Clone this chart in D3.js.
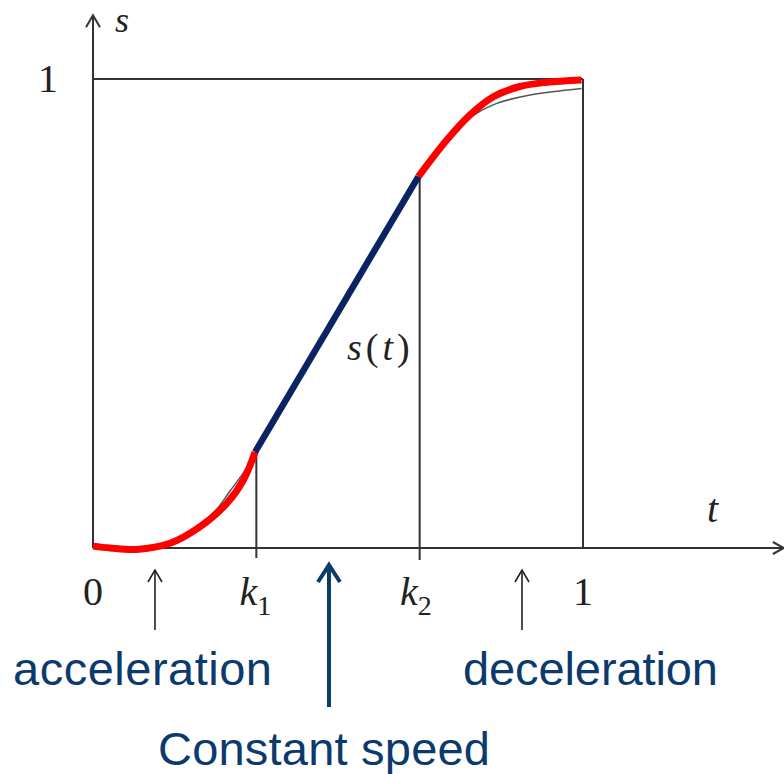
<!DOCTYPE html>
<html lang="en">
<head>
  <meta charset="utf-8">
  <title>S-curve motion profile</title>
  <script src="https://d3js.org/d3.v7.min.js"></script>
  <style>
    body { margin: 0; background: #fff; }
    .frame { stroke: #333; stroke-width: 2px; fill: none; }
    .math { font-family: 'Liberation Serif', 'Times New Roman', serif; fill: #222; }
    .note { font-family: 'Liberation Sans', Arial, sans-serif; font-size: 47px; fill: #0c3a6c; }
  </style>
</head>
<body>
<div id="chart"></div>
<script>
  // knots on the t axis: 0, k1, k2, 1
  var tTicks = [0, 1 / 3, 2 / 3, 1];
  var tTickNames = ["0", "k", "k", "1"];
  var tTickSubs = ["", "1", "2", ""];

  // red acceleration part [t, s]
  var accel = [[0, 0.004], [0.035, 0.0], [0.089, -0.003], [0.157, 0.010], [0.218, 0.045],
    [0.273, 0.095], [0.307, 0.145], [0.331, 0.205]];
  // blue constant speed part
  var cruise = [[0.331, 0.205], [0.664, 0.792]];
  // red deceleration part
  var decel = [[0.664, 0.792], [0.722, 0.870], [0.769, 0.923], [0.817, 0.962],
    [0.871, 0.984], [0.926, 0.993], [0.997, 0.998]];
  // thin grey reference curve underneath
  var refAccel = [[0, 0], [0.08, 0.0], [0.14, 0.008], [0.2, 0.036], [0.25, 0.08],
    [0.28, 0.122], [0.31, 0.165], [0.333, 0.205]];
  var refDecel = [[0.664, 0.792], [0.74, 0.895], [0.783, 0.927], [0.824, 0.948],
    [0.892, 0.966], [0.997, 0.980]];

  // annotation arrows on the t axis
  var phaseArrows = [0.1265, 0.4816, 0.8755];

  var W = 784, H = 774;
  var svg = d3.select("#chart").append("svg")
    .attr("width", W).attr("height", H);

  var x = d3.scaleLinear().domain([0, 1]).range([93, 583]);
  var y = d3.scaleLinear().domain([0, 1]).range([548, 79]);
  var tMax = 1.41, sMax = 1.136;

  var line = d3.line()
    .x(function (d) { return x(d[0]); })
    .y(function (d) { return y(d[1]); })
    .curve(d3.curveCatmullRom.alpha(0.5));

  // axes
  svg.append("line").attr("class", "frame")
    .attr("x1", x(0)).attr("y1", y(0)).attr("x2", x(tMax) - 1).attr("y2", y(0));
  svg.append("line").attr("class", "frame")
    .attr("x1", x(0)).attr("y1", y(0)).attr("x2", x(0)).attr("y2", y(sMax) + 1);

  // axis arrow heads
  svg.append("path").attr("class", "frame")
    .attr("d", "M" + (x(tMax) - 11) + "," + (y(0) - 6) + "L" + x(tMax) + "," + y(0) +
      "L" + (x(tMax) - 11) + "," + (y(0) + 6));
  svg.append("path").attr("class", "frame")
    .attr("d", "M" + (x(0) - 7) + "," + (y(sMax) + 12) + "L" + x(0) + "," + y(sMax) +
      "L" + (x(0) + 7) + "," + (y(sMax) + 12));

  // box s = 1 and t = 1
  svg.append("line").attr("class", "frame")
    .attr("x1", x(0)).attr("y1", y(1)).attr("x2", x(1)).attr("y2", y(1));
  svg.append("line").attr("class", "frame")
    .attr("x1", x(1)).attr("y1", y(1)).attr("x2", x(1)).attr("y2", y(0));

  // verticals at k1, k2
  svg.append("line").attr("class", "frame")
    .attr("x1", x(tTicks[1])).attr("y1", y(cruise[0][1])).attr("x2", x(tTicks[1])).attr("y2", y(0) + 10);
  svg.append("line").attr("class", "frame")
    .attr("x1", x(tTicks[2])).attr("y1", y(cruise[1][1])).attr("x2", x(tTicks[2])).attr("y2", y(0) + 12);

  // grey reference curve
  [refAccel, refDecel].forEach(function (seg) {
    svg.append("path").attr("d", line(seg))
      .attr("fill", "none").attr("stroke", "#555").attr("stroke-width", 1.5);
  });

  // red and blue profile
  [accel, decel].forEach(function (seg) {
    svg.append("path").attr("d", line(seg))
      .attr("fill", "none").attr("stroke", "#ff0000").attr("stroke-width", 7)
      .attr("stroke-linecap", "butt");
  });
  svg.append("path").attr("d", line(cruise))
    .attr("fill", "none").attr("stroke", "#0a2463").attr("stroke-width", 6.5);

  // tick labels
  tTicks.forEach(function (t, i) {
    var txt = svg.append("text").attr("class", "math")
      .attr("x", x(t)).attr("y", 605)
      .attr("font-size", 40)
      .attr("text-anchor", tTickSubs[i] ? "end" : "middle");
    if (tTickSubs[i]) {
      txt.attr("x", x(t) + (i === 1 ? 1 : -2)).style("font-style", "italic").text(tTickNames[i]);
      svg.append("text").attr("class", "math")
        .attr("x", x(t) + (i === 1 ? 1 : -2)).attr("y", 615)
        .attr("font-size", 28).text(tTickSubs[i]);
    } else {
      txt.text(tTickNames[i]);
    }
  });
  svg.append("text").attr("class", "math")
    .attr("x", x(0) - 45).attr("y", y(1) + 13)
    .attr("font-size", 40).attr("text-anchor", "middle").text("1");

  // axis names
  svg.append("text").attr("class", "math").style("font-style", "italic")
    .attr("x", 115).attr("y", 32).attr("font-size", 36).text("s");
  svg.append("text").attr("class", "math").style("font-style", "italic")
    .attr("x", 707).attr("y", 522).attr("font-size", 40).text("t");
  svg.append("text").attr("class", "math")
    .attr("x", 347).attr("y", 360).attr("font-size", 38)
    .attr("letter-spacing", 4)
    .html('<tspan font-style="italic">s</tspan>(<tspan font-style="italic">t</tspan>)');

  // phase arrows
  phaseArrows.forEach(function (t, i) {
    var mid = i === 1;
    var tip = mid ? 565 : 570;
    var bottom = mid ? 707 : 630;
    var col = mid ? "#0c3a6c" : "#222";
    var sw = mid ? 4 : 1.6;
    var hw = mid ? 11 : 7, hh = mid ? 17 : 12;
    svg.append("line")
      .attr("x1", x(t)).attr("y1", tip + 1).attr("x2", x(t)).attr("y2", bottom)
      .attr("stroke", col).attr("stroke-width", sw);
    svg.append("path")
      .attr("d", "M" + (x(t) - hw) + "," + (tip + hh) + "L" + x(t) + "," + tip + "L" + (x(t) + hw) + "," + (tip + hh))
      .attr("fill", "none").attr("stroke", col).attr("stroke-width", sw);
  });

  // phase names
  svg.append("text").attr("class", "note").attr("x", 13).attr("y", 685)
    .attr("textLength", 259).text("acceleration");
  svg.append("text").attr("class", "note").attr("x", 463).attr("y", 685)
    .attr("textLength", 255).text("deceleration");
  svg.append("text").attr("class", "note").attr("x", 158).attr("y", 765)
    .attr("textLength", 332).text("Constant speed");
</script>
</body>
</html>
